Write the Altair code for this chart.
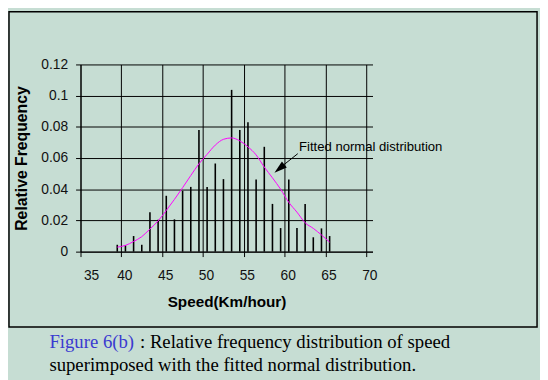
import altair as alt
import pandas as pd

# ---- data ----
speed = [39.5, 40.5, 41.5, 42.5, 43.5, 44.5, 45.5, 46.5, 47.5, 48.5, 49.5, 50.5, 51.5, 52.5,
         53.5, 54.5, 55.5, 56.5, 57.5, 58.5, 59.5, 60.5, 61.5, 62.5, 63.5, 64.5, 65.5]
rel_freq = [0.0044, 0.0040, 0.0100, 0.0044, 0.0253, 0.0205, 0.0358, 0.0207, 0.0390, 0.0415,
            0.0780, 0.0415, 0.0565, 0.0465, 0.1037, 0.0780, 0.0830, 0.0463, 0.0672, 0.0306,
            0.0151, 0.0463, 0.0151, 0.0306, 0.0092, 0.0149, 0.0100]
fitted = [0.0029, 0.0040, 0.0065, 0.0096, 0.0145, 0.0197, 0.0264, 0.0335, 0.0410, 0.0488,
          0.0563, 0.0624, 0.0683, 0.0720, 0.0729, 0.0710, 0.0672, 0.0620, 0.0542, 0.0473,
          0.0400, 0.0316, 0.0253, 0.0185, 0.0149, 0.0107, 0.0061]
x_ticks = [35, 40, 45, 50, 55, 60, 65, 70]
y_ticks = [0, 0.02, 0.04, 0.06, 0.08, 0.1, 0.12]

annotation = ["Fitted normal distribution"]
caption_fig = ["Figure 6(b)"]
caption_line1 = [": Relative frequency distribution of speed"]
caption_line2 = ["superimposed with the fitted normal distribution."]

bars_df = pd.DataFrame({"speed": speed, "value": rel_freq})
curve_df = pd.DataFrame({"speed": speed, "value": fitted})
one = pd.DataFrame({"k": [0]})

BG = "#C6DDD3"
SANS = "Liberation Sans"
SERIF = "Liberation Serif"

xscale = alt.Scale(domain=[35, 70.75], nice=False, zero=False)
yscale = alt.Scale(domain=[0, 0.12], nice=False)

x_enc = alt.X("speed:Q", scale=xscale,
              axis=alt.Axis(title="Speed(Km/hour)", values=x_ticks, tickCount=20, grid=True,
                            labelOverlap=False, labelOffset=3,
                            tickSize=5, labelPadding=12, titlePadding=13,
                            titleFontSize=15.5))
y_enc = alt.Y("value:Q", scale=yscale,
              axis=alt.Axis(title="Relative Frequency", values=y_ticks, tickCount=20, grid=True,
                            labelExpr="datum.value + ''", labelOverlap=False,
                            tickSize=5, labelPadding=8, titlePadding=12,
                            titleFontSize=16))

bars = alt.Chart(bars_df).mark_rule(color="black", strokeWidth=1.6).encode(
    x=x_enc, y=y_enc, y2=alt.datum(0)
)

curve = alt.Chart(curve_df).mark_line(color="#FF00FF", strokeWidth=1,
                                      interpolate="monotone").encode(x=x_enc, y=y_enc)

arrow_line = alt.Chart(one).mark_rule(color="black", strokeWidth=1).encode(
    x=alt.datum(61.6), y=alt.datum(0.0628), x2=alt.datum(59.8), y2=alt.datum(0.0553)
)
arrow_head = alt.Chart(one).mark_point(
    shape="M0,-1L0.6,1L-0.6,1Z", angle=230.7, size=170, filled=True,
    color="black", opacity=1
).encode(x=alt.datum(59.35), y=alt.datum(0.0532))

label = alt.Chart(pd.DataFrame({"t": annotation})).mark_text(
    align="left", baseline="alphabetic", font=SANS, fontSize=13.3, color="black"
).encode(x=alt.datum(61.75), y=alt.datum(0.0648), text="t:N")

cap_a = alt.Chart(pd.DataFrame({"t": caption_fig})).mark_text(
    align="left", baseline="alphabetic", font=SERIF, fontSize=19, color="#3A3AD0"
).encode(x=alt.value(-31.6), y=alt.value(287.5), text="t:N")
cap_b = alt.Chart(pd.DataFrame({"t": caption_line1})).mark_text(
    align="left", baseline="alphabetic", font=SERIF, fontSize=19, color="black"
).encode(x=alt.value(60.4), y=alt.value(287.5), text="t:N")
cap_c = alt.Chart(pd.DataFrame({"t": caption_line2})).mark_text(
    align="left", baseline="alphabetic", font=SERIF, fontSize=19, color="black"
).encode(x=alt.value(-31.6), y=alt.value(311.5), text="t:N")

frame = alt.Chart(one).mark_rect(fill="transparent", stroke="black", strokeWidth=1.5).encode(
    x=alt.value(-72.6), x2=alt.value(463.4), y=alt.value(-53.5), y2=alt.value(266.5)
)

chart = alt.layer(frame, bars, curve, arrow_line, arrow_head, label, cap_a, cap_b, cap_c).properties(
    width=296.4, height=190,
    padding={"left": 73.6, "top": 54.5, "right": 170, "bottom": 127.5},
    autosize=alt.AutoSizeParams(type="none"),
).configure(
    background=BG
).configure_view(
    stroke=None
).configure_axis(
    domainColor="black", domainWidth=1, tickColor="black", tickWidth=1,
    gridColor="black", gridOpacity=1, gridWidth=1,
    labelFont=SANS, labelFontSize=14, labelColor="#111111",
    titleFont=SANS, titleFontWeight="bold", titleColor="black",
)

chart.save("out.html", embed_options={"renderer": "svg", "actions": False})
